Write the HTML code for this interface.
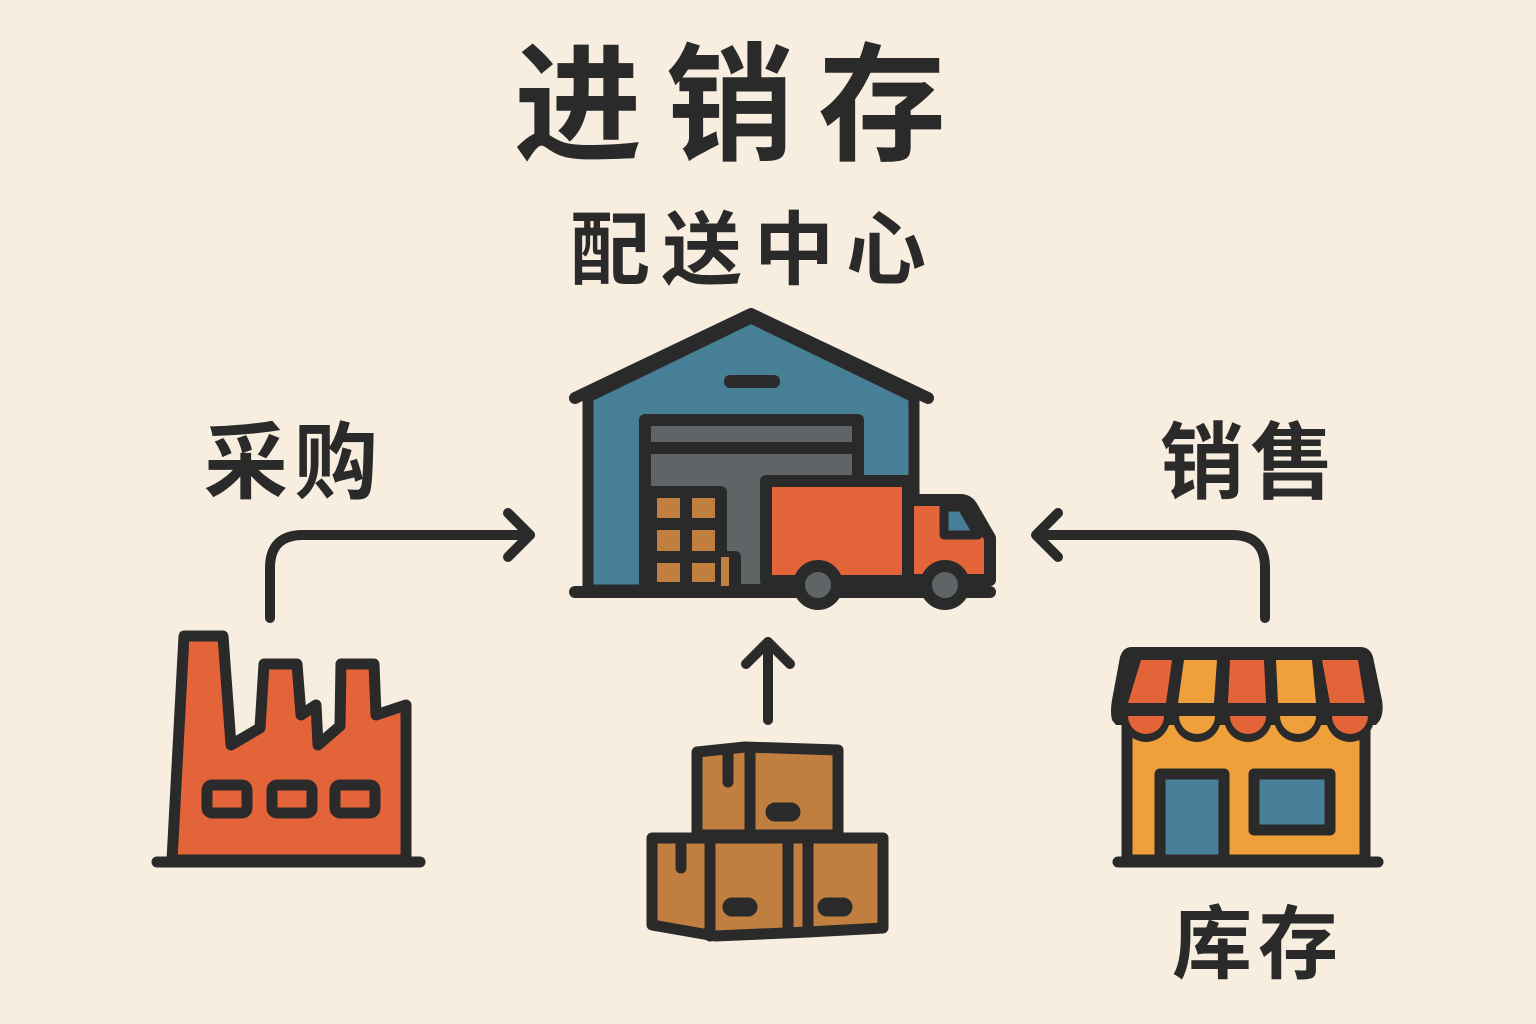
<!DOCTYPE html>
<html><head><meta charset="utf-8"><style>
html,body{margin:0;padding:0;background:#f8eedf;}
svg{display:block}
text{font-family:"Liberation Sans","Noto Sans CJK SC",sans-serif;font-weight:bold;fill:#2a2a2a}
</style></head><body>
<svg width="1536" height="1024" viewBox="0 0 1536 1024">
<rect width="1536" height="1024" fill="#f8eedf"/>
<text x="742" y="150" font-size="128" text-anchor="middle" letter-spacing="24">进销存</text>
<text x="754" y="278" font-size="80" text-anchor="middle" letter-spacing="12">配送中心</text>
<text x="294" y="492" font-size="84" text-anchor="middle" letter-spacing="6">采购</text>
<text x="1250" y="492" font-size="84" text-anchor="middle" letter-spacing="6">销售</text>
<text x="1258" y="972" font-size="80" text-anchor="middle" letter-spacing="6">库存</text>

<g fill="none" stroke="#2a2a2a" stroke-width="10" stroke-linecap="round" stroke-linejoin="round">
<path d="M270 618 V568 Q270 535 303 535 H530"/>
<path d="M508 513 L530 535 L508 557"/>
<path d="M1265 618 V568 Q1265 535 1232 535 H1038"/>
<path d="M1058 513 L1036 535 L1058 557"/>
<path d="M768 720 V642"/>
<path d="M746 664 L768 642 L790 664"/>
</g>

<!-- warehouse -->
<g stroke="#2a2a2a" stroke-width="12" stroke-linejoin="round" stroke-linecap="round">
<path d="M588 590 V397 L751 318 L914 397 V590 Z" fill="#467f96" stroke-width="11"/>
<path d="M575 398 L751 314 L928 398" fill="none"/>
<rect x="724" y="375" width="56" height="13" rx="6" fill="#2a2a2a" stroke="none"/>
<rect x="645" y="420" width="213" height="170" fill="#5f6566"/>
<line x1="645" y1="448" x2="858" y2="448"/>
<rect x="651" y="492" width="70" height="96" fill="#c07f3e"/>
<line x1="686" y1="492" x2="686" y2="588"/>
<line x1="651" y1="524" x2="721" y2="524"/>
<line x1="651" y1="557" x2="735" y2="557"/>
<rect x="721" y="557" width="14" height="31" fill="#c07f3e" stroke="none"/>
<line x1="735" y1="557" x2="735" y2="590"/>
<rect x="766" y="481" width="142" height="100" fill="#e4643a"/>
<path d="M908 500 H960 Q968 500 972 507 L990 538 V580 H908 Z" fill="#e4643a"/>
<path d="M944 507 H962 L978 535 H944 Z" fill="#467f96" stroke-width="9"/>
<line x1="575" y1="592" x2="990" y2="592"/>
<circle cx="818" cy="585" r="19" fill="#5f6566"/>
<circle cx="945" cy="585" r="19" fill="#5f6566"/>
</g>

<!-- factory -->
<g stroke="#2a2a2a" stroke-width="11" stroke-linejoin="round" stroke-linecap="round">
<path d="M172 860 L184 636 L223 636 L231 745 L260 728 L264 664 L297 664 L301 715 L316 705 L318 745 L340 726 L341 664 L374 664 L376 715 L406 705 L406 860 Z" fill="#e4643a"/>
<line x1="157" y1="862" x2="420" y2="862"/>
<rect x="207" y="785" width="40" height="28" rx="5" fill="#e4643a"/>
<rect x="272" y="785" width="40" height="28" rx="5" fill="#e4643a"/>
<rect x="335" y="785" width="40" height="28" rx="5" fill="#e4643a"/>
</g>

<!-- boxes -->
<g stroke="#2a2a2a" stroke-width="11" stroke-linejoin="round" stroke-linecap="round" fill="#c07f3e">
<path d="M697 752 L745 747 L838 750 L838 835 L697 835 Z"/>
<line x1="750" y1="750" x2="750" y2="835"/>
<path d="M728 752 V782" />
<path d="M652 838 L883 838 L883 928 L808 932 L715 936 L652 925 Z"/>
<line x1="710" y1="838" x2="710" y2="936"/>
<line x1="788" y1="838" x2="788" y2="932"/>
<line x1="808" y1="838" x2="808" y2="932"/>
<path d="M681 838 V868"/>
<rect x="728" y="903" width="24" height="8" rx="4" fill="#2a2a2a"/>
<rect x="823" y="903" width="24" height="8" rx="4" fill="#2a2a2a"/>
<rect x="771" y="808" width="24" height="8" rx="4" fill="#2a2a2a"/>
</g>

<!-- shop -->
<g stroke="#2a2a2a" stroke-width="11" stroke-linejoin="round" stroke-linecap="round">
<rect x="1127" y="712" width="238" height="148" fill="#f0a03a"/>
<rect x="1160" y="774" width="64" height="86" fill="#467f96"/>
<rect x="1254" y="774" width="76" height="56" fill="#467f96"/>
<line x1="1118" y1="862" x2="1378" y2="862"/>
</g>
<g fill="#2a2a2a">
<path d="M1132 647 H1360 Q1370 647 1373 657 L1382 700 Q1384 712 1380 720 L1376 725 H1116 L1112 720 Q1110 712 1112 700 L1120 657 Q1123 647 1132 647 Z"/>
<circle cx="1146" cy="718" r="24"/><circle cx="1197" cy="718" r="24"/><circle cx="1248" cy="718" r="24"/><circle cx="1298" cy="718" r="24"/><circle cx="1350" cy="718" r="24"/>
</g>
<g>
<path d="M1141 660 H1172 L1166 703 H1128 Z" fill="#e4643a"/>
<path d="M1184 660 H1217 L1214 703 H1178 Z" fill="#f0a03a"/>
<path d="M1230 660 H1264 L1266 703 H1228 Z" fill="#e4643a"/>
<path d="M1276 660 H1312 L1316 703 H1278 Z" fill="#f0a03a"/>
<path d="M1322 660 H1358 L1365 703 H1330 Z" fill="#e4643a"/>
<path d="M1128 716 H1164 A18 18 0 0 1 1128 716 Z" fill="#e4643a"/>
<path d="M1179 716 H1215 A18 18 0 0 1 1179 716 Z" fill="#f0a03a"/>
<path d="M1230 716 H1266 A18 18 0 0 1 1230 716 Z" fill="#e4643a"/>
<path d="M1280 716 H1316 A18 18 0 0 1 1280 716 Z" fill="#f0a03a"/>
<path d="M1332 716 H1368 A18 18 0 0 1 1332 716 Z" fill="#e4643a"/>
</g>
</svg>
</body></html>
